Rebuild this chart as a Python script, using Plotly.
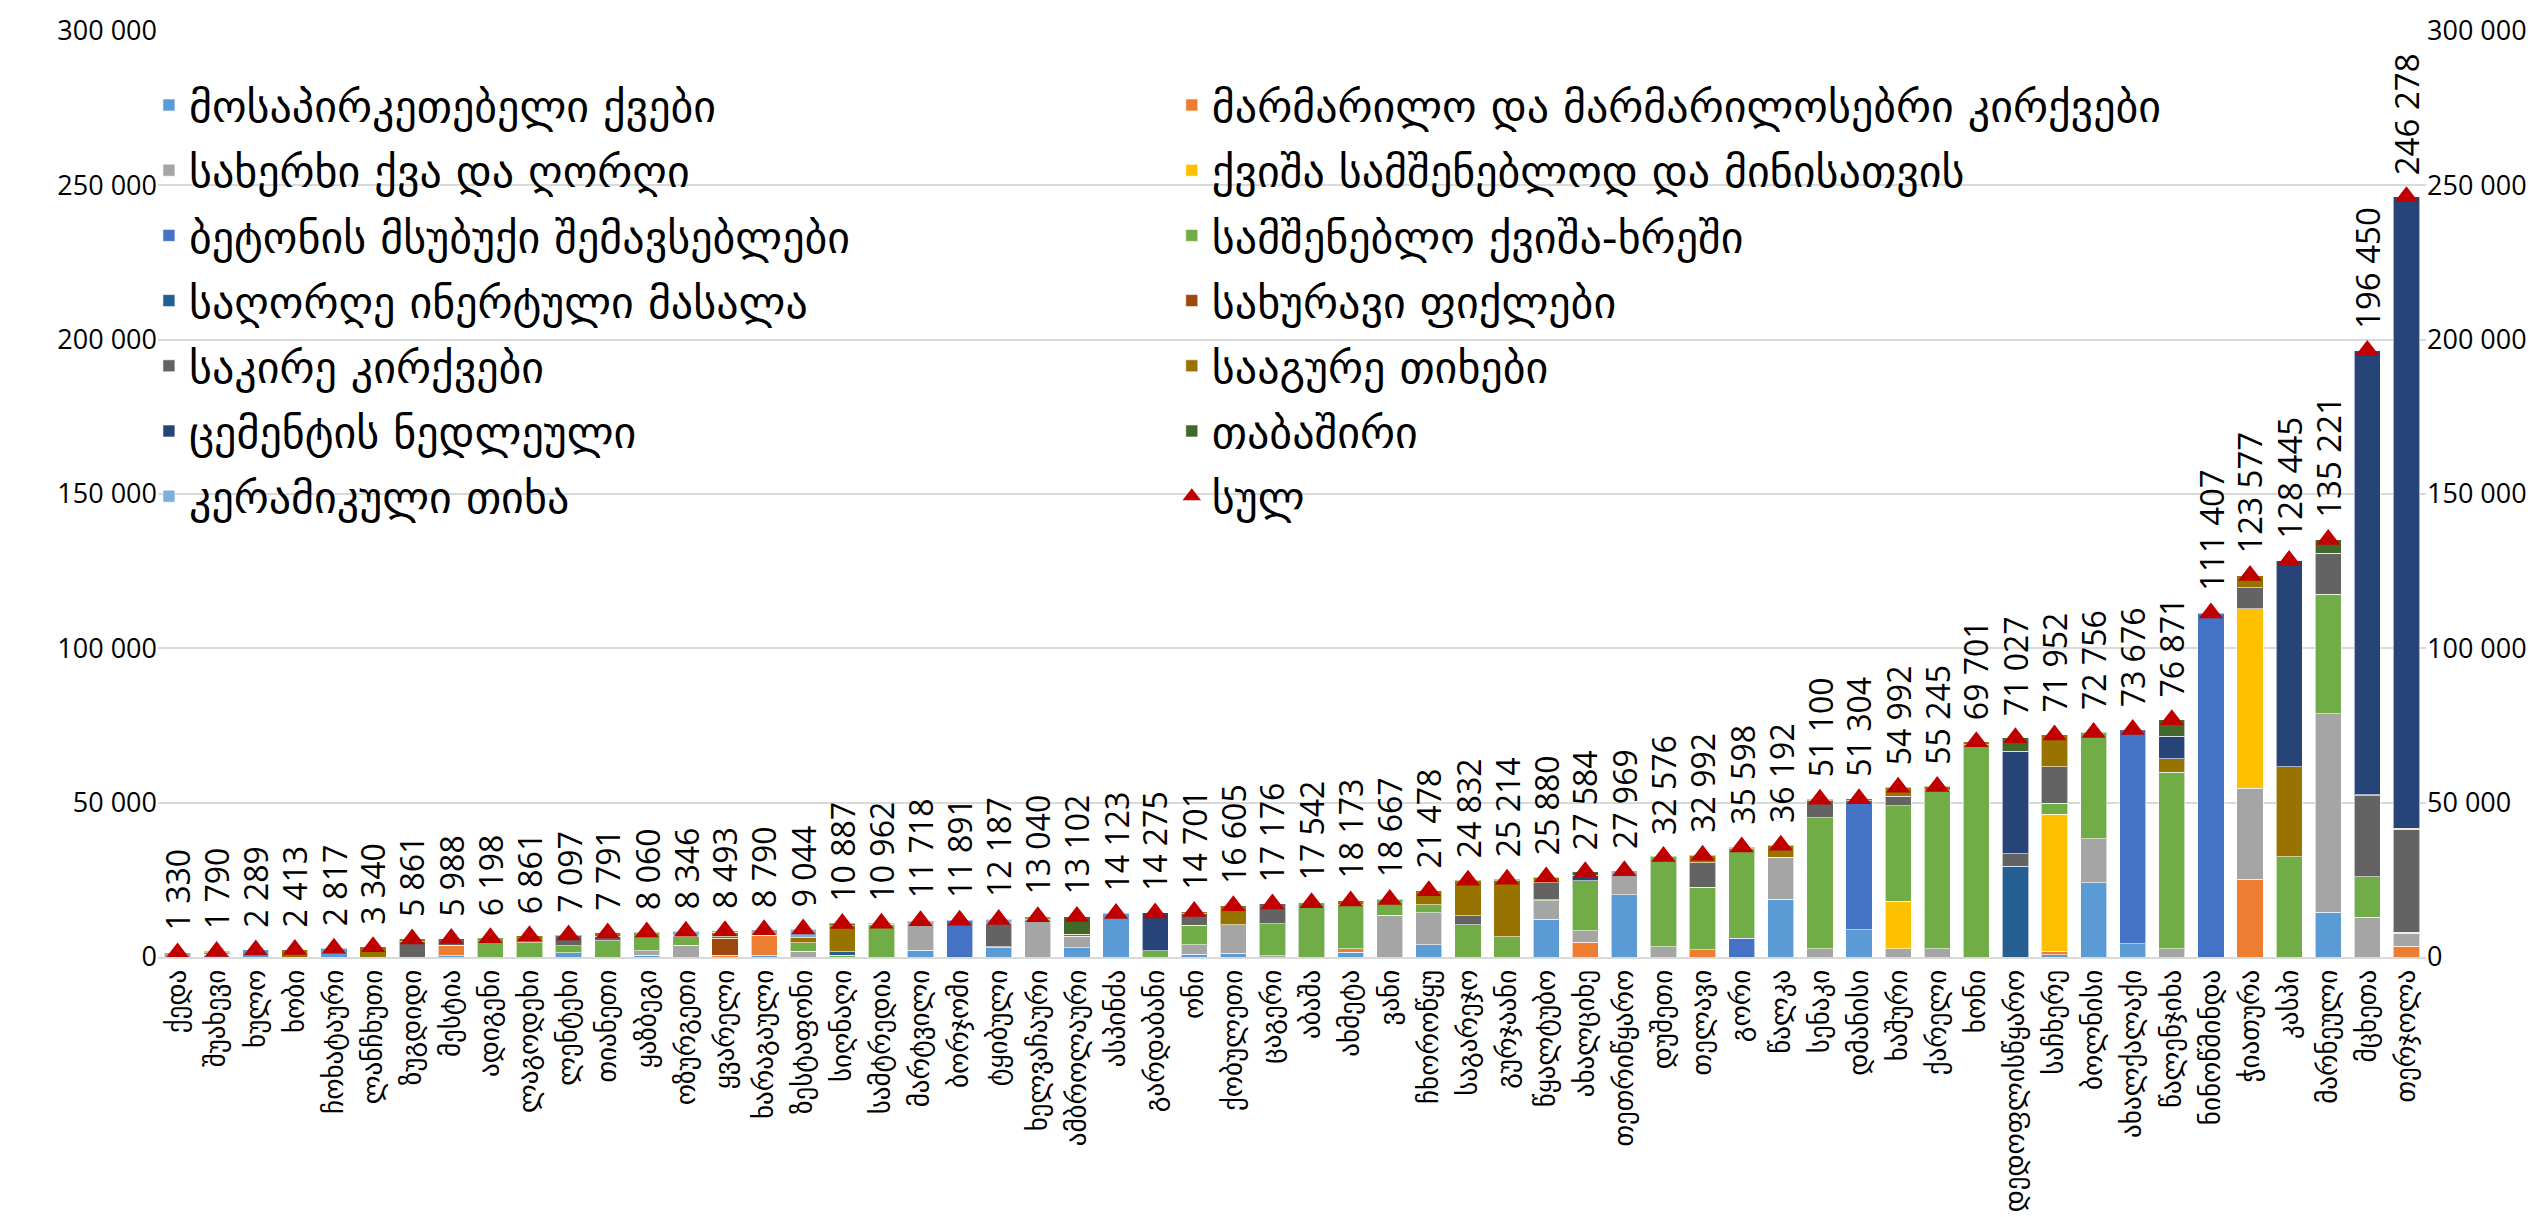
import plotly.graph_objects as go

CATEGORIES = [
    "ქედა", "შუახევი", "ხულო", "ხობი", "ჩოხატაური", "ლანჩხუთი", "ზუგდიდი", "მესტია", "ადიგენი", "ლაგოდეხი",
    "ლენტეხი", "თიანეთი", "ყაზბეგი", "ოზურგეთი", "ყვარელი", "ხარაგაული", "ზესტაფონი", "სიღნაღი", "სამტრედია", "მარტვილი",
    "ბორჯომი", "ტყიბული", "ხელვაჩაური", "ამბროლაური", "ასპინძა", "გარდაბანი", "ონი", "ქობულეთი", "ცაგერი", "აბაშა",
    "ახმეტა", "ვანი", "ჩხოროწყუ", "საგარეჯო", "გურჯაანი", "წყალტუბო", "ახალციხე", "თეთრიწყარო", "დუშეთი", "თელავი",
    "გორი", "წალკა", "სენაკი", "დმანისი", "ხაშური", "ქარელი", "ხონი", "დედოფლისწყარო", "საჩხერე", "ბოლნისი",
    "ახალქალაქი", "წალენჯიხა", "ნინოწმინდა", "ჭიათურა", "კასპი", "მარნეული", "მცხეთა", "თერჯოლა",
]

TOTAL = [
    1330, 1790, 2289, 2413, 2817, 3340, 5861, 5988, 6198, 6861,
    7097, 7791, 8060, 8346, 8493, 8790, 9044, 10887, 10962, 11718,
    11891, 12187, 13040, 13102, 14123, 14275, 14701, 16605, 17176, 17542,
    18173, 18667, 21478, 24832, 25214, 25880, 27584, 27969, 32576, 32992,
    35598, 36192, 51100, 51304, 54992, 55245, 69701, 71027, 71952, 72756,
    73676, 76871, 111407, 123577, 128445, 135221, 196450, 246278,
]

FACING_STONE = [
    0, 500, 2289, 0, 2817, 0, 0, 450, 0, 0,
    1400, 0, 550, 0, 0, 500, 0, 0, 0, 2200,
    0, 3000, 0, 3000, 14123, 0, 900, 1200, 0, 0,
    1500, 0, 3900, 0, 0, 12200, 0, 20200, 0, 0,
    0, 18700, 0, 8750, 0, 0, 0, 0, 800, 24100,
    4300, 0, 0, 0, 0, 14500, 0, 0,
]
MARBLE = [
    0, 0, 0, 0, 0, 0, 0, 3400, 0, 0,
    0, 0, 0, 0, 500, 6500, 0, 0, 0, 0,
    0, 0, 0, 0, 0, 0, 0, 0, 0, 0,
    1200, 0, 0, 0, 0, 0, 4800, 0, 0, 2400,
    0, 0, 0, 0, 0, 0, 0, 0, 1000, 0,
    0, 0, 0, 25200, 0, 0, 0, 3480,
]
SAWN_STONE = [
    1330, 400, 0, 0, 0, 0, 0, 0, 0, 0,
    0, 0, 1400, 3800, 0, 1790, 1900, 0, 0, 9200,
    0, 300, 12100, 3800, 0, 0, 3100, 9200, 450, 0,
    0, 13500, 10500, 0, 0, 6100, 3700, 7769, 3300, 0,
    0, 13550, 2700, 0, 2700, 2700, 0, 0, 0, 14250,
    0, 2600, 0, 29400, 0, 64300, 12960, 4260,
]
SAND_GLASS = [
    0, 0, 0, 0, 0, 0, 0, 0, 0, 0,
    0, 0, 0, 0, 0, 0, 0, 0, 0, 0,
    0, 0, 0, 0, 0, 0, 0, 0, 0, 0,
    0, 0, 0, 0, 0, 0, 0, 0, 0, 0,
    0, 0, 0, 0, 15300, 0, 0, 0, 44500, 0,
    0, 0, 0, 58200, 0, 0, 0, 0,
]
CONCRETE_FILLER = [
    0, 0, 0, 0, 0, 0, 0, 0, 0, 0,
    0, 0, 0, 0, 0, 0, 0, 0, 0, 0,
    11891, 0, 0, 0, 0, 0, 0, 0, 0, 0,
    0, 0, 0, 0, 0, 0, 0, 0, 0, 0,
    6100, 0, 0, 41800, 0, 0, 0, 0, 0, 0,
    69376, 0, 111407, 0, 0, 0, 0, 0,
]
SAND_GRAVEL = [
    0, 400, 0, 0, 0, 0, 0, 0, 6198, 4600,
    2300, 5200, 6110, 3000, 0, 0, 2750, 550, 10650, 0,
    0, 0, 940, 0, 0, 2000, 6300, 0, 10400, 17542,
    14150, 5167, 2450, 10400, 6500, 300, 16200, 0, 29276, 20150,
    29050, 0, 42350, 0, 31000, 51200, 68700, 0, 3450, 34406,
    0, 57200, 0, 0, 32400, 38800, 12960, 200,
]
CRUSHED_INERT = [
    0, 0, 0, 0, 0, 0, 0, 0, 0, 0,
    0, 0, 0, 0, 0, 0, 0, 1100, 0, 0,
    0, 0, 0, 0, 0, 0, 0, 0, 0, 0,
    0, 0, 0, 0, 0, 0, 0, 0, 0, 0,
    0, 0, 0, 0, 0, 0, 0, 29400, 0, 0,
    0, 0, 0, 0, 0, 0, 0, 0,
]
ROOF_SLATE = [
    0, 0, 0, 0, 0, 0, 0, 0, 0, 0,
    0, 0, 0, 0, 5500, 0, 0, 0, 0, 0,
    0, 0, 0, 0, 0, 0, 0, 0, 0, 0,
    0, 0, 0, 0, 0, 0, 0, 0, 0, 0,
    0, 0, 0, 0, 0, 0, 0, 0, 0, 0,
    0, 0, 0, 0, 0, 0, 0, 0,
]
LIMESTONE = [
    0, 0, 0, 0, 0, 0, 5000, 2138, 0, 0,
    3397, 1450, 0, 300, 500, 0, 0, 0, 0, 0,
    0, 7500, 0, 0, 0, 0, 3700, 0, 6326, 0,
    0, 0, 0, 2950, 0, 5400, 0, 0, 0, 7950,
    0, 0, 5510, 0, 3150, 0, 0, 4100, 11900, 0,
    0, 0, 0, 6800, 0, 13200, 26300, 33480,
]
BRICK_CLAY = [
    0, 490, 0, 2413, 0, 3340, 861, 0, 0, 2261,
    0, 1141, 0, 0, 1500, 0, 1650, 8450, 312, 318,
    0, 0, 0, 650, 0, 0, 701, 6205, 0, 0,
    1323, 0, 4628, 11482, 18150, 1880, 0, 0, 0, 2492,
    448, 3942, 540, 754, 2842, 1345, 1001, 0, 10302, 0,
    0, 4400, 0, 3977, 29300, 0, 400, 300,
]
CEMENT_RAW = [
    0, 0, 0, 0, 0, 0, 0, 0, 0, 0,
    0, 0, 0, 0, 0, 0, 0, 0, 0, 0,
    0, 0, 0, 0, 0, 12275, 0, 0, 0, 0,
    0, 0, 0, 0, 0, 0, 1800, 0, 0, 0,
    0, 0, 0, 0, 0, 0, 0, 33100, 0, 0,
    0, 7300, 0, 0, 66745, 0, 143830, 204558,
]
GYPSUM = [
    0, 0, 0, 0, 0, 0, 0, 0, 0, 0,
    0, 0, 0, 0, 0, 0, 0, 787, 0, 0,
    0, 0, 0, 5652, 0, 0, 0, 0, 0, 0,
    0, 0, 0, 0, 564, 0, 1084, 0, 0, 0,
    0, 0, 0, 0, 0, 0, 0, 4427, 0, 0,
    0, 5371, 0, 0, 0, 4421, 0, 0,
]
CERAMIC_CLAY = [
    0, 0, 0, 0, 0, 0, 0, 0, 0, 0,
    0, 0, 0, 1246, 493, 0, 2744, 0, 0, 0,
    0, 1387, 0, 0, 0, 0, 0, 0, 0, 0,
    0, 0, 0, 0, 0, 0, 0, 0, 0, 0,
    0, 0, 0, 0, 0, 0, 0, 0, 0, 0,
    0, 0, 0, 0, 0, 0, 0, 0,
]

SERIES_NAMES = [
    "მოსაპირკეთებელი ქვები",
    "მარმარილო და მარმარილოსებრი კირქვები",
    "სახერხი ქვა და ღორღი",
    "ქვიშა სამშენებლოდ და მინისათვის",
    "ბეტონის მსუბუქი შემავსებლები",
    "სამშენებლო ქვიშა-ხრეში",
    "საღორღე ინერტული მასალა",
    "სახურავი ფიქლები",
    "საკირე კირქვები",
    "სააგურე თიხები",
    "ცემენტის ნედლეული",
    "თაბაშირი",
    "კერამიკული თიხა",
]
TOTAL_NAME = "სულ"
SERIES_VALUES = [FACING_STONE, MARBLE, SAWN_STONE, SAND_GLASS, CONCRETE_FILLER, SAND_GRAVEL,
                 CRUSHED_INERT, ROOF_SLATE, LIMESTONE, BRICK_CLAY, CEMENT_RAW, GYPSUM, CERAMIC_CLAY]
COLORS = ["#5B9BD5", "#ED7D31", "#A5A5A5", "#FFC000", "#4472C4", "#70AD47",
          "#255E91", "#9E480E", "#636363", "#997300", "#264478", "#43682B", "#7CAFDD"]
TOTAL_COLOR = "#C00000"

GEO_FONT = "DejaVu Sans"
NUM_FONT = "Open Sans"

fig = go.Figure()
for i, (name, vals, color) in enumerate(zip(SERIES_NAMES, SERIES_VALUES, COLORS)):
    fig.add_trace(go.Bar(
        x=CATEGORIES,
        y=[v if v else None for v in vals],
        name=name,
        marker=dict(color=color, line=dict(color="rgba(255,255,255,0.6)", width=1)),
        legend="legend" if i % 2 == 0 else "legend2",
        legendgroup=f"g{i}",
    ))

fig.add_trace(go.Scatter(
    x=CATEGORIES, y=TOTAL, name=TOTAL_NAME, mode="markers", yaxis="y2",
    marker=dict(symbol="triangle-up", size=21, color=TOTAL_COLOR),
    legend="legend2", legendgroup="gtotal", cliponaxis=False,
))

for c, t in zip(CATEGORIES, TOTAL):
    label_size = 33 if t >= 100000 else 32
    fig.add_annotation(
        x=c, y=t, xref="x", yref="y2", text=f"{t:,}".replace(",", " "),
        textangle=-90, showarrow=False, yanchor="bottom", xanchor="center", yshift=20,
        font=dict(family=NUM_FONT, size=label_size, color="#000000"),
    )

legend_common = dict(
    orientation="v", traceorder="grouped", tracegroupgap=5,
    bgcolor="rgba(0,0,0,0)", yanchor="top", xanchor="left",
    font=dict(family=GEO_FONT, size=44, color="#000000"),
)

n = len(CATEGORIES)
fig.update_layout(
    width=2547, height=1217,
    margin=dict(l=150, r=129, t=23, b=268),
    paper_bgcolor="white", plot_bgcolor="white",
    barmode="stack", bargap=0.33,
    separators=". ",
    showlegend=True,
    legend=dict(x=-0.004, y=0.958, **legend_common),
    legend2=dict(x=0.447, y=0.958, **legend_common),
    xaxis=dict(
        type="category", range=[-0.5, n - 0.5], autorange=False, automargin=False,
        tickmode="linear", tick0=0, dtick=1,
        tickangle=-90, showgrid=False, ticks="",
        showline=True, linecolor="#D9D9D9", linewidth=2,
        tickfont=dict(family=GEO_FONT, size=27, color="#000000"),
    ),
    yaxis=dict(
        range=[0, 300000], dtick=50000, tickformat=",d", showgrid=True, automargin=False,
        gridcolor="#D9D9D9", gridwidth=2, zeroline=False, showline=False, ticks="",
        tickfont=dict(family=NUM_FONT, size=27, color="#000000"),
    ),
    yaxis2=dict(
        range=[0, 300000], dtick=50000, tickformat=",d", overlaying="y", side="right",
        showgrid=False, zeroline=False, showline=False, ticks="", automargin=False,
        tickfont=dict(family=NUM_FONT, size=27, color="#000000"),
    ),
)

fig.write_html("out.html")
